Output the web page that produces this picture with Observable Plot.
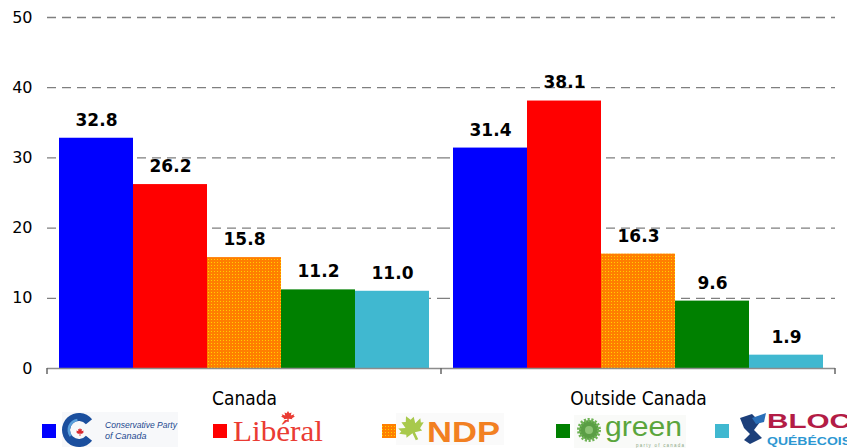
<!DOCTYPE html>
<html>
<head>
<meta charset="utf-8">
<script src="https://cdn.jsdelivr.net/npm/d3@7"></script>
<script src="https://cdn.jsdelivr.net/npm/@observablehq/plot@0.6"></script>
<style>
  html, body { margin: 0; padding: 0; background: #fff; }
  #chart { width: 847px; }
  #legend { display: block; }
</style>
</head>
<body>
<div id="chart"></div>
<script>
// ---- data ----
const groups = ["Canada", "Outside Canada"];
const parties = ["Conservative", "Liberal", "NDP", "Green", "Bloc"];
const canadaValues = [32.8, 26.2, 15.8, 11.2, 11.0];
const outsideValues = [31.4, 38.1, 16.3, 9.6, 1.9];
const yTicks = [0, 10, 20, 30, 40, 50];
const gridTicks = [10, 20, 30, 40, 50];
const partyColors = ["#0000ff", "#ff0000", "url(#ndp-pattern)", "#008000", "#40b8d0"];

const data = [];
parties.forEach((p, i) => data.push({group: groups[0], party: p, value: canadaValues[i]}));
parties.forEach((p, i) => data.push({group: groups[1], party: p, value: outsideValues[i]}));

const plot = Plot.plot({
  width: 847,
  height: 410,
  marginLeft: 47,
  marginRight: 12,
  marginTop: 17,
  marginBottom: 42,
  style: {fontFamily: "'DejaVu Sans', sans-serif", fontSize: "16px", color: "#000", background: "#fff"},
  fx: {domain: groups, padding: 0, label: null, tickSize: 0, tickPadding: 23, axis: "bottom"},
  x: {domain: parties, paddingInner: 0, paddingOuter: 0.15, axis: null},
  y: {domain: [0, 50], ticks: yTicks, tickSize: 0, tickPadding: 15, label: null},
  color: {domain: parties, range: partyColors},
  marks: [
    Plot.ruleY(gridTicks, {stroke: "#7f7f7f", strokeWidth: 1.3, strokeDasharray: "9,6"}),
    Plot.barY(data, {fx: "group", x: "party", y: "value", fill: "party"}),
    Plot.ruleY([0], {stroke: "#8c8c8c", strokeWidth: 1.5}),
    Plot.text(data, {fx: "group", x: "party", y: "value", text: d => d.value.toFixed(1),
      dy: -18, fontWeight: "bold", fontSize: 17, fill: "#000"})
  ]
});

function addPattern(defsSel, id) {
  const pat = defsSel.append("pattern").attr("id", id).attr("patternUnits", "userSpaceOnUse")
    .attr("x", 0).attr("y", 0).attr("width", 3).attr("height", 3);
  pat.append("rect").attr("width", 3).attr("height", 3).attr("fill", "#ff7f00");
  pat.append("rect").attr("x", 1).attr("y", 1).attr("width", 1).attr("height", 1).attr("fill", "#ffd000");
}

const svg = d3.select(plot);
const defs = svg.insert("defs", ":first-child");
addPattern(defs, "ndp-pattern");

// fx tick label styling
svg.selectAll('[aria-label="fx-axis tick label"] text, [aria-label="fx-axis"] text')
  .style("font-family", "'DejaVu Sans Condensed', 'Liberation Sans', sans-serif")
  .style("font-size", "19px");

// group separator ticks on the baseline (from the fx scale)
const fx = plot.scale("fx");
const yS = plot.scale("y");
const sepX = groups.map(g => fx.apply(g)).concat([fx.apply(groups[groups.length - 1]) + fx.bandwidth]);
const y0 = yS.apply(0);
svg.append("g").selectAll("line").data(sepX).join("line")
  .attr("x1", d => d).attr("x2", d => d)
  .attr("y1", y0).attr("y2", y0 + 6)
  .attr("stroke", "#666").attr("stroke-width", 1.5);

document.getElementById("chart").appendChild(plot);

// ---- legend (logos) ----
const leafPts = [[0.5,0],[0.6,0.2],[0.75,0.14],[0.7,0.4],[0.95,0.3],[0.9,0.46],[1,0.5],[0.78,0.65],[0.82,0.76],[0.55,0.7],[0.55,1],[0.45,1],[0.45,0.7],[0.18,0.76],[0.22,0.65],[0,0.5],[0.1,0.46],[0.05,0.3],[0.3,0.4],[0.25,0.14],[0.4,0.2]];
function leaf(g, x, y, w, h, fill, rot) {
  g.append("polygon")
    .attr("points", leafPts.map(([a, b]) => `${a * w},${b * h}`).join(" "))
    .attr("fill", fill)
    .attr("transform", `translate(${x},${y}) rotate(${rot || 0},${w / 2},${h / 2})`);
}
const L = d3.create("svg").attr("width", 847).attr("height", 38).attr("id", "legend")
  .style("font-family", "'Liberation Sans', sans-serif");
addPattern(L.append("defs"), "ndp-pattern-legend");

const swatchX = [42, 213, 382, 556, 715];
const swatchFill = ["#0000ff", "#ff0000", "url(#ndp-pattern-legend)", "#008000", "#40b8d0"];
L.append("g").selectAll("rect").data(parties).join("rect")
  .attr("x", (d, i) => swatchX[i]).attr("y", 14).attr("width", 14).attr("height", 14)
  .attr("fill", (d, i) => swatchFill[i]);

// Conservative logo
const cg = L.append("g");
cg.append("rect").attr("x", 62).attr("y", 2).attr("width", 116).attr("height", 35).attr("fill", "#f7f8fa");
cg.append("path")
  .attr("d", d3.arc()({innerRadius: 9, outerRadius: 17, startAngle: 0.72 * Math.PI, endAngle: 2.28 * Math.PI}))
  .attr("transform", "translate(79,20)").attr("fill", "#1b4f9e");
cg.append("path")
  .attr("d", d3.arc()({innerRadius: 9, outerRadius: 11.5, startAngle: 1.3 * Math.PI, endAngle: 1.95 * Math.PI}))
  .attr("transform", "translate(79,20)").attr("fill", "#5aa0dc");
leaf(cg, 76, 18, 8, 8, "#d8262e", 0);
cg.append("text").attr("x", 105).attr("y", 18).attr("font-size", 9).attr("font-style", "italic")
  .attr("fill", "#23488f").attr("textLength", 72).attr("lengthAdjust", "spacingAndGlyphs").text("Conservative Party");
cg.append("text").attr("x", 105).attr("y", 29).attr("font-size", 9).attr("font-style", "italic")
  .attr("fill", "#23488f").text("of Canada");

// Liberal logo
const lg = L.append("g");
lg.append("text").attr("x", 233).attr("y", 31).attr("font-family", "'Liberation Serif', serif")
  .attr("font-size", 30).attr("fill", "#ea3b33").attr("textLength", 90).attr("lengthAdjust", "spacingAndGlyphs")
  .text("Libéral");
leaf(lg, 281, 1, 14, 11, "#ea3b33", 0);

// NDP logo
const ng = L.append("g");
ng.append("rect").attr("x", 396).attr("y", 3).attr("width", 108).attr("height", 32).attr("fill", "#fafafa");
leaf(ng, 398, 5, 27, 26, "#a8c94c", -25);
ng.append("text").attr("x", 427).attr("y", 32).attr("font-size", 30).attr("font-weight", "bold")
  .attr("fill", "#f28022").attr("textLength", 73).attr("lengthAdjust", "spacingAndGlyphs").text("NDP");

// Green logo
const gg = L.append("g");
gg.append("rect").attr("x", 574).attr("y", 5).attr("width", 112).attr("height", 33).attr("fill", "#f9faf8");
gg.append("circle").attr("cx", 589).attr("cy", 20).attr("r", 10).attr("fill", "#5a9e45")
  .attr("stroke", "#6fb356").attr("stroke-width", 4).attr("stroke-dasharray", "2,1.5");
gg.append("circle").attr("cx", 589).attr("cy", 20).attr("r", 4).attr("fill", "#8cc474");
gg.append("text").attr("x", 605).attr("y", 26).attr("font-size", 28).attr("fill", "#5aa53c")
  .attr("textLength", 77).attr("lengthAdjust", "spacingAndGlyphs").text("green");
gg.append("text").attr("x", 636).attr("y", 37).attr("font-size", 4.5).attr("fill", "#8aa884")
  .attr("textLength", 48).text("party of canada");

// Bloc logo
const bg = L.append("g");
bg.append("path").attr("d", "M740,8 L752,4 L760,12 L754,20 L762,28 L750,34 L744,30 L750,24 L744,18 Z")
  .attr("fill", "#1c3f7a");
bg.append("path").attr("d", "M752,8 L766,3 L764,12 L756,14 Z").attr("fill", "#2a6fb8");
bg.append("text").attr("x", 767).attr("y", 18).attr("font-size", 20).attr("font-weight", "bold")
  .attr("fill", "#b31c46").attr("textLength", 84).attr("lengthAdjust", "spacingAndGlyphs").text("BLOC");
bg.append("text").attr("x", 767).attr("y", 35).attr("font-size", 11).attr("font-weight", "bold")
  .attr("fill", "#2c97d2").attr("textLength", 84).attr("lengthAdjust", "spacingAndGlyphs").text("QUÉBÉCOIS");

document.getElementById("chart").appendChild(L.node());
</script>
</body>
</html>
